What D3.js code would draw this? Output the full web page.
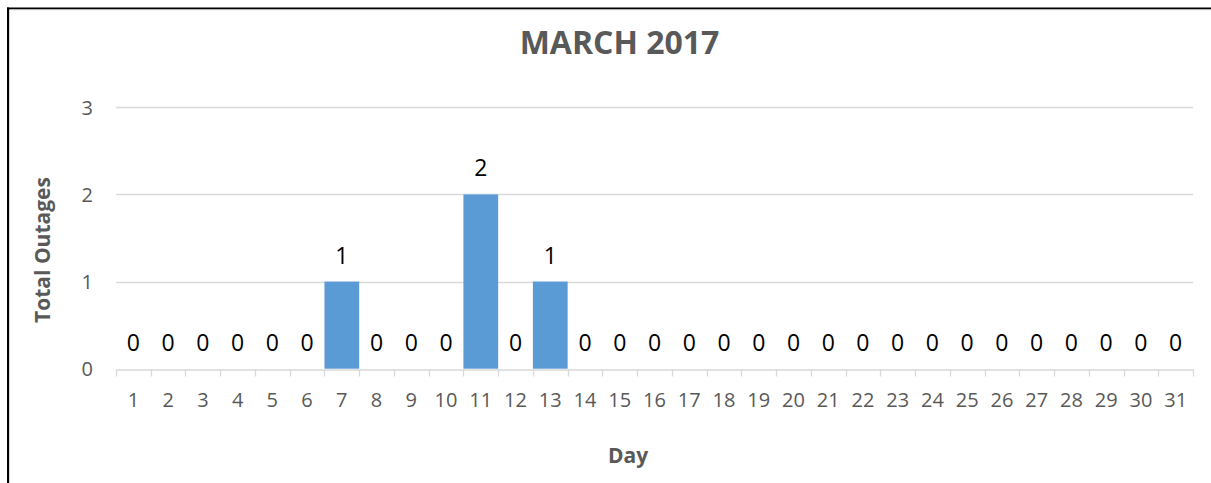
<!DOCTYPE html>
<html>
<head>
<meta charset="utf-8">
<script src="https://cdn.jsdelivr.net/npm/d3@7"></script>
<style>
  html, body { margin: 0; padding: 0; background: #fff; overflow: hidden; }
  svg { display: block; }
  text { font-family: "Open Sans", sans-serif; }
</style>
</head>
<body>
<svg id="chart" width="1211" height="483"></svg>
<script>
const title = "MARCH 2017";
const xTitle = "Day";
const yTitle = "Total Outages";
const days = d3.range(1, 32).map(String);
const outages = [0,0,0,0,0,0,1,0,0,0,2,0,1,0,0,0,0,0,0,0,0,0,0,0,0,0,0,0,0,0,0];
const yTicks = [0, 1, 2, 3];

const svg = d3.select("#chart");
const W = 1211, H = 483;

// outer frame (only left and top edges are visible in the picture)
svg.append("line").attr("x1", 8).attr("x2", 8).attr("y1", 7.5).attr("y2", H)
  .attr("stroke", "#000").attr("stroke-width", 2);
svg.append("line").attr("x1", 7).attr("x2", W).attr("y1", 8.5).attr("y2", 8.5)
  .attr("stroke", "#000").attr("stroke-width", 2);
svg.append("line").attr("x1", 9.5).attr("x2", 9.5).attr("y1", 10).attr("y2", H)
  .attr("stroke", "#d9d9d9").attr("stroke-width", 1);
svg.append("line").attr("x1", 10).attr("x2", W).attr("y1", 10).attr("y2", 10)
  .attr("stroke", "#e8e8e8").attr("stroke-width", 1);

const plot = { left: 116, right: 1193, top: 107.3, bottom: 368.7 };

const x = d3.scaleBand().domain(days).range([plot.left, plot.right]).padding(0);
const y = d3.scaleLinear().domain([0, 3]).range([plot.bottom, plot.top]);

// gridlines
svg.append("g").selectAll("line").data(yTicks.filter(d => d > 0)).join("line")
  .attr("x1", plot.left).attr("x2", plot.right)
  .attr("y1", d => Math.round(y(d)) + 0.5).attr("y2", d => Math.round(y(d)) + 0.5)
  .attr("stroke", "#d9d9d9").attr("stroke-width", 1.3);

// y axis labels
const yAxis = d3.axisLeft(y).tickValues(yTicks).tickSize(0).tickPadding(0).tickFormat(d3.format("d"));
const gy = svg.append("g").attr("transform", `translate(${plot.left - 23},0)`).call(yAxis);
gy.select(".domain").remove();
gy.selectAll("text").attr("font-size", 20).attr("fill", "#595959")
  .attr("font-family", "'Open Sans', sans-serif").attr("dy", "0.36em");

// bars
svg.append("g").selectAll("rect").data(outages).join("rect")
  .attr("x", (d, i) => x(days[i]))
  .attr("width", x.bandwidth())
  .attr("y", d => y(d))
  .attr("height", d => y(0) - y(d))
  .attr("fill", "#5b9bd5");

// x axis
const xAxis = d3.axisBottom(x).tickSize(0).tickPadding(0);
const gx = svg.append("g").attr("transform", `translate(0,${Math.round(plot.bottom) + 0.5})`).call(xAxis);
gx.select(".domain").attr("stroke", "#d9d9d9").attr("stroke-width", 1.3);
gx.selectAll("text").attr("font-size", 20).attr("fill", "#595959")
  .attr("font-family", "'Open Sans', sans-serif").attr("dy", null).attr("y", 406.7 - Math.round(plot.bottom) - 0.5);
// band boundary ticks
const bounds = days.map(d => x(d)).concat([plot.right]);
gx.append("g").selectAll("line").data(bounds).join("line")
  .attr("x1", d => Math.round(d) + 0.5).attr("x2", d => Math.round(d) + 0.5)
  .attr("y1", 0).attr("y2", 7).attr("stroke", "#d9d9d9").attr("stroke-width", 1.3);

// data labels
svg.append("g").selectAll("text").data(outages).join("text")
  .attr("x", (d, i) => x(days[i]) + x.bandwidth() / 2)
  .attr("y", d => y(d) - 18)
  .attr("text-anchor", "middle")
  .attr("font-size", 23).attr("fill", "#000")
  .text(d => d);

// title
svg.append("text").attr("x", 619.5).attr("y", 54.3).attr("text-anchor", "middle")
  .attr("font-size", 32).attr("font-weight", "bold").attr("fill", "#595959").text(title);

// x title
svg.append("text").attr("x", 628).attr("y", 463.3).attr("text-anchor", "middle")
  .attr("font-size", 21).attr("font-weight", "bold").attr("fill", "#595959").text(xTitle);

// y title
svg.append("text").attr("transform", "translate(50,250) rotate(-90)").attr("text-anchor", "middle")
  .attr("font-size", 21).attr("font-weight", "bold").attr("fill", "#595959").text(yTitle);
</script>
</body>
</html>
